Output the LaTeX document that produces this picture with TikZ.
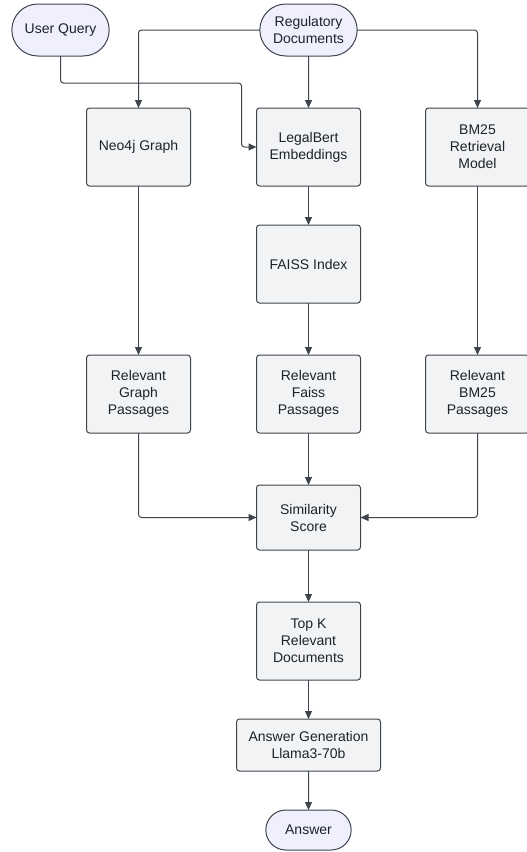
\documentclass[tikz,border=0pt]{standalone}
\usepackage{fontspec}
\setmainfont{Liberation Sans}
\usetikzlibrary{arrows.meta,positioning,shapes.misc}

\definecolor{linegray}{HTML}{3E444C}
\definecolor{boxfill}{HTML}{F2F3F5}
\definecolor{pillfill}{HTML}{EFEFFD}
\definecolor{textgray}{HTML}{1E2227}

\begin{document}
\begin{tikzpicture}[x=1pt,y=1pt,node distance=52pt,
	font=\fontsize{14pt}{17pt}\selectfont,
	box/.style={draw=linegray,fill=boxfill,rounded corners=3pt,line width=1pt,outer sep=0pt,
		minimum width=104pt,minimum height=78pt,align=center,text=textgray},
	pill/.style={rounded rectangle,draw=linegray,fill=pillfill,line width=1pt,outer sep=0pt,
		minimum width=104pt,minimum height=52pt,align=center,text=textgray},
	flow/.style={draw=linegray,line width=1pt,rounded corners=3pt,
		-{Triangle[length=8pt,width=7pt]}}]
	\useasboundingbox (0,0) rectangle (527,-852);

	\node[pill] (docs) at (308.5,-30) {Regulatory\\Documents};
	\node[pill] (query) at (60.5,-30) {User Query};
	\node[box] (bert) [below=of docs] {LegalBert\\Embeddings};
	\node[box] (neo) [left=66pt of bert] {Neo4j Graph};
	\node[box] (bm) [right=65pt of bert] {BM25\\Retrieval\\Model};
	\node[box] (faiss) [below=39pt of bert] {FAISS Index};
	\node[box] (relfaiss) [below=of faiss] {Relevant\\Faiss\\Passages};
	\node[box] (relgraph) at (relfaiss -| neo) {Relevant\\Graph\\Passages};
	\node[box] (relbm) at (relfaiss -| bm) {Relevant\\BM25\\Passages};
	\node[box,minimum height=65pt] (sim) [below=of relfaiss] {Similarity\\Score};
	\node[box] (topk) [below=of sim] {Top K\\Relevant\\Documents};
	\node[box,minimum width=144pt,minimum height=52pt] (gen) [below=39pt of topk] {Answer Generation\\Llama3-70b};
	\node[pill,minimum width=92pt,minimum height=40pt] (answer) [below=39pt of gen] {Answer};

	\draw[flow] (docs.west) -| (neo);
	\draw[flow] (docs.east) -| (bm);
	\draw[flow] (docs) -- (bert);
	\draw[flow] (query.south) -- ++(0,-27) -| ([xshift=-15pt]bert.west) -- (bert.west);
	\draw[flow] (bert) -- (faiss);
	\draw[flow] (faiss) -- (relfaiss);
	\draw[flow] (neo) -- (relgraph);
	\draw[flow] (bm) -- (relbm);
	\draw[flow] (relgraph) |- (sim);
	\draw[flow] (relbm) |- (sim);
	\draw[flow] (relfaiss) -- (sim);
	\draw[flow] (sim) -- (topk);
	\draw[flow] (topk) -- (gen);
	\draw[flow] (gen) -- (answer);
\end{tikzpicture}
\end{document}
